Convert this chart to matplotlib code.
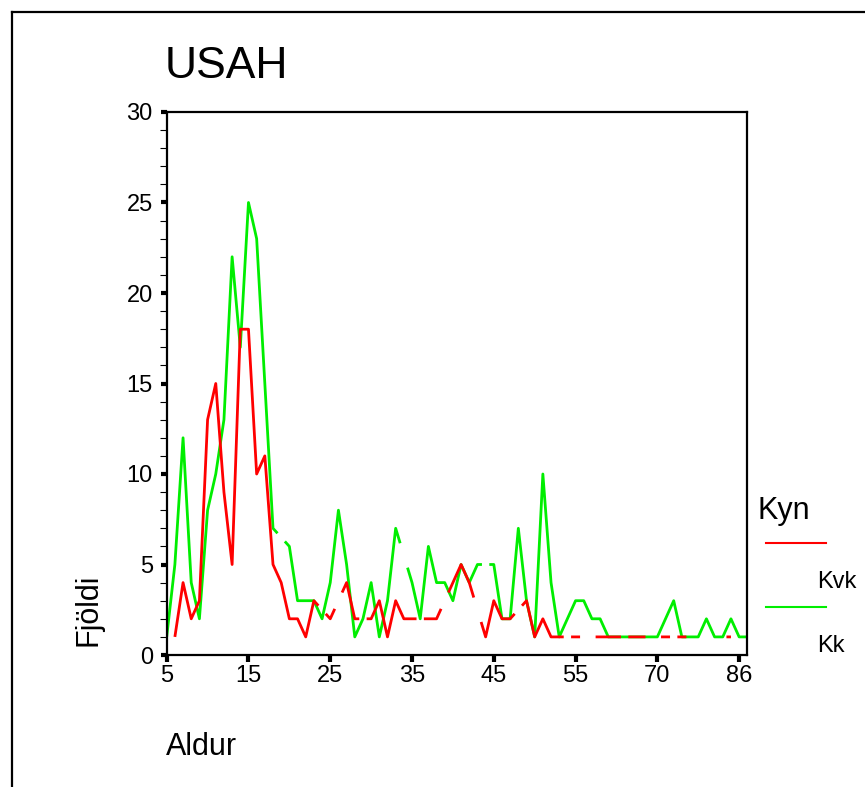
import numpy as np
import matplotlib
matplotlib.use("Agg")
import matplotlib.pyplot as plt
from matplotlib.ticker import MultipleLocator

nan = np.nan

# Age categories present in the data (category axis)
ages = (list(range(5, 56))
        + [56, 57, 58, 59, 60, 61, 63, 65, 67, 70]
        + [71, 72, 73, 75, 76, 78, 80, 82, 84, 86]
        + [88])

# Counts per age; nan = no cases in that group (drawn as a gap)
kvk = [nan, 1, 4, 2, 3, 13, 15, 9, 5, 18,
       18, 10, 11, 5, 4, 2, 2, 1, 3, nan,
       2, nan, 4, 2, nan, 2, 3, 1, 3, 2,
       2, nan, 2, 2, nan, 4, 5, 4, nan, 1,
       3, 2, 2, nan, 3, 1, 2, 1, 1, nan,
       1, nan, nan, 1, 1, 1, nan, 1, 1, nan,
       nan, 1, nan, 1, nan, nan, nan, nan, nan, 1,
       nan, nan]

kk = [1, 5, 12, 4, 2, 8, 10, 13, 22, 17,
      25, 23, 15, 7, nan, 6, 3, 3, 3, 2,
      4, 8, 5, 1, 2, 4, 1, 3, 7, nan,
      4, 2, 6, 4, 4, 3, 5, 4, 5, nan,
      5, 2, 2, 7, 3, 1, 10, 4, 1, 2,
      3, 3, 2, 2, 1, 1, 1, 1, 1, 1,
      1, 2, 3, 1, 1, 1, 2, 1, 1, 2,
      1, 1]

series_names = ["Kvk", "Kk"]
series_colors = ["#ff0000", "#00ee00"]
tick_every = 10


def gapped_xy(vals, frac=0.55):
    """Connect neighbouring points; across missing categories only short
    stubs are drawn from each side (SPSS-style gaps)."""
    v = np.asarray(vals, dtype=float)
    idx = np.where(~np.isnan(v))[0]
    xs, ys = [], []
    run_x, run_y = [], []
    for k, i in enumerate(idx):
        if k == 0:
            run_x, run_y = [i], [v[i]]
            continue
        p = idx[k - 1]
        if i == p + 1:
            run_x.append(i); run_y.append(v[i])
        else:
            t = frac / (i - p)
            run_x.append(p + (i - p) * t); run_y.append(v[p] + (v[i] - v[p]) * t)
            xs += run_x + [nan]; ys += run_y + [nan]
            run_x = [i - (i - p) * t, i]
            run_y = [v[i] - (v[i] - v[p]) * t, v[i]]
    xs += run_x; ys += run_y
    return np.array(xs), np.array(ys)


W, H = 865, 787
fig = plt.figure(figsize=(W / 100, H / 100), dpi=100)
plt.rcParams['font.family'] = ['Liberation Sans', 'DejaVu Sans']

ax = fig.add_axes([166.7 / W, 1 - 655 / H, (747.3 - 166.7) / W, (655 - 112) / H])

x = np.arange(len(ages))
for vals, col, z in [(kk, series_colors[1], 2), (kvk, series_colors[0], 3)]:
    gx, gy = gapped_xy(vals)
    ax.plot(gx, gy, color=col, lw=2.0, zorder=z, solid_capstyle='butt')

ax.set_xlim(0, len(ages) - 1)
ax.set_ylim(0, 30)
ticks = x[::tick_every]
ax.set_xticks(ticks)
ax.set_xticklabels([str(ages[i]) for i in ticks], fontsize=17)
ax.yaxis.set_major_locator(MultipleLocator(5))
ax.yaxis.set_minor_locator(MultipleLocator(1))
ax.tick_params(axis='y', which='major', direction='out', length=4, width=3,
               labelsize=17, pad=6)
ax.tick_params(axis='y', which='minor', direction='out', length=5, width=0.8)
ax.tick_params(axis='x', which='major', direction='out', length=5, width=3,
               labelsize=17, pad=2)
for s in ax.spines.values():
    s.set_linewidth(1.6)

# Titles and axis labels
fig.text(165 / W, 1 - 66 / H, "USAH", fontsize=32, ha='left', va='center')
fig.text(89 / W, 1 - 610 / H, "Fjöldi", fontsize=22, rotation=90,
         ha='center', va='center')
fig.text(166 / W, 1 - 747 / H, "Aldur", fontsize=22, ha='left', va='center')

# Legend
fig.text(757 / W, 1 - 511 / H, "Kyn", fontsize=22, ha='left', va='center')
for j, (name, col) in enumerate(zip(series_names, series_colors)):
    yl = 543 + j * 64
    fig.add_artist(plt.Line2D([766 / W, 826 / W], [1 - yl / H, 1 - yl / H],
                              color=col, lw=1.5))
    fig.text(817 / W, 1 - (yl + 39) / H, name, fontsize=17, ha='left',
             va='center')

# Outer frame (left and top edges)
fig.add_artist(plt.Line2D([12 / W, 12 / W], [0, 1 - 12 / H], color='black', lw=1.6))
fig.add_artist(plt.Line2D([12 / W, 1], [1 - 12 / H, 1 - 12 / H], color='black', lw=1.6))

fig.savefig("out.png", dpi=100)
